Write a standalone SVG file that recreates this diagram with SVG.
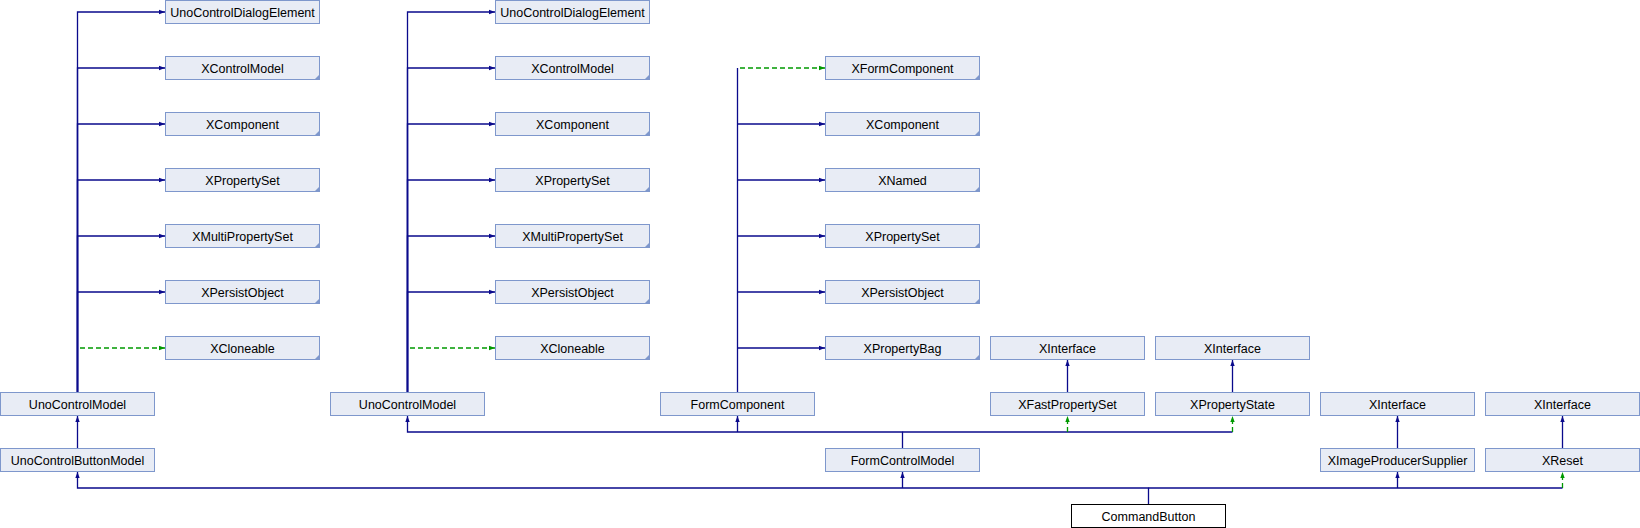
<svg xmlns="http://www.w3.org/2000/svg" width="1640" height="528" viewBox="0 0 1640 528">
<style>
.n{fill:#e8ecf5;stroke:#7e97cc;stroke-width:1}
.m{fill:#ffffff;stroke:#000000;stroke-width:1}
.c{fill:#7e97cc;stroke:none}
.t{font-family:"Liberation Sans",Arial,sans-serif;font-size:12.5px;fill:#000000;text-anchor:middle}
.e{fill:none;stroke:#0a0a8c;stroke-width:1.3}
.d{fill:none;stroke:#009900;stroke-width:1.3;stroke-dasharray:5,3}
</style>
<defs>
<marker id="an" markerWidth="8" markerHeight="8" refX="6" refY="4" orient="auto" markerUnits="userSpaceOnUse"><path d="M0,1.8 L6,4 L0,6.2 z" fill="#0a0a8c"/></marker>
<marker id="ag" markerWidth="8" markerHeight="8" refX="6" refY="4" orient="auto" markerUnits="userSpaceOnUse"><path d="M0,1.8 L6,4 L0,6.2 z" fill="#009900"/></marker>
</defs>
<rect x="0" y="0" width="1640" height="528" fill="#ffffff"/>
<g id="connectors">
<path class="d" d="M80,348 H165" marker-end="url(#ag)"/>
<path class="e" d="M77.5,392 V12 H165" marker-end="url(#an)"/>
<path class="e" d="M77.5,392 V68 H165" marker-end="url(#an)"/>
<path class="e" d="M77.5,392 V124 H165" marker-end="url(#an)"/>
<path class="e" d="M77.5,392 V180 H165" marker-end="url(#an)"/>
<path class="e" d="M77.5,392 V236 H165" marker-end="url(#an)"/>
<path class="e" d="M77.5,392 V292 H165" marker-end="url(#an)"/>
<path class="d" d="M410,348 H495" marker-end="url(#ag)"/>
<path class="e" d="M407.5,392 V12 H495" marker-end="url(#an)"/>
<path class="e" d="M407.5,392 V68 H495" marker-end="url(#an)"/>
<path class="e" d="M407.5,392 V124 H495" marker-end="url(#an)"/>
<path class="e" d="M407.5,392 V180 H495" marker-end="url(#an)"/>
<path class="e" d="M407.5,392 V236 H495" marker-end="url(#an)"/>
<path class="e" d="M407.5,392 V292 H495" marker-end="url(#an)"/>
<path class="d" d="M740,68 H825" marker-end="url(#ag)"/>
<path class="e" d="M737.5,392 V68"/>
<path class="e" d="M737.5,124 H825" marker-end="url(#an)"/>
<path class="e" d="M737.5,180 H825" marker-end="url(#an)"/>
<path class="e" d="M737.5,236 H825" marker-end="url(#an)"/>
<path class="e" d="M737.5,292 H825" marker-end="url(#an)"/>
<path class="e" d="M737.5,348 H825" marker-end="url(#an)"/>
<path class="e" d="M77.5,448 V416" marker-end="url(#an)"/>
<path class="e" d="M902.5,448 V432 H407.5 V416" marker-end="url(#an)"/>
<path class="e" d="M737.5,432 V416" marker-end="url(#an)"/>
<path class="e" d="M902.5,432 H1232.5"/>
<path class="d" d="M1067.5,432 V416" marker-end="url(#ag)"/>
<path class="d" d="M1232.5,432 V416" marker-end="url(#ag)"/>
<path class="e" d="M1067.5,392 V360" marker-end="url(#an)"/>
<path class="e" d="M1232.5,392 V360" marker-end="url(#an)"/>
<path class="e" d="M1397.5,448 V416" marker-end="url(#an)"/>
<path class="e" d="M1562.5,448 V416" marker-end="url(#an)"/>
<path class="e" d="M1148.5,504 V488 H77.5 V472" marker-end="url(#an)"/>
<path class="e" d="M902.5,488 V472" marker-end="url(#an)"/>
<path class="e" d="M1148.5,488 H1562.5"/>
<path class="e" d="M1397.5,488 V472" marker-end="url(#an)"/>
<path class="d" d="M1562.5,488 V472" marker-end="url(#ag)"/>
</g>
<g id="a_UnoControlModel"><rect class="n" x="0.5" y="392.5" width="154" height="23"/><text class="t" x="77.5" y="408.5">UnoControlModel</text></g>
<g id="a_UnoControlButtonModel"><rect class="n" x="0.5" y="448.5" width="154" height="23"/><text class="t" x="77.5" y="464.5">UnoControlButtonModel</text></g>
<g id="b_UnoControlDialogElement"><rect class="n" x="165.5" y="0.5" width="154" height="23"/><text class="t" x="242.5" y="16.5">UnoControlDialogElement</text></g>
<g id="b_XControlModel"><rect class="n" x="165.5" y="56.5" width="154" height="23"/><path class="c" d="M320,74 V80 H314 z"/><text class="t" x="242.5" y="72.5">XControlModel</text></g>
<g id="b_XComponent"><rect class="n" x="165.5" y="112.5" width="154" height="23"/><path class="c" d="M320,130 V136 H314 z"/><text class="t" x="242.5" y="128.5">XComponent</text></g>
<g id="b_XPropertySet"><rect class="n" x="165.5" y="168.5" width="154" height="23"/><path class="c" d="M320,186 V192 H314 z"/><text class="t" x="242.5" y="184.5">XPropertySet</text></g>
<g id="b_XMultiPropertySet"><rect class="n" x="165.5" y="224.5" width="154" height="23"/><path class="c" d="M320,242 V248 H314 z"/><text class="t" x="242.5" y="240.5">XMultiPropertySet</text></g>
<g id="b_XPersistObject"><rect class="n" x="165.5" y="280.5" width="154" height="23"/><path class="c" d="M320,298 V304 H314 z"/><text class="t" x="242.5" y="296.5">XPersistObject</text></g>
<g id="b_XCloneable"><rect class="n" x="165.5" y="336.5" width="154" height="23"/><path class="c" d="M320,354 V360 H314 z"/><text class="t" x="242.5" y="352.5">XCloneable</text></g>
<g id="c_UnoControlModel"><rect class="n" x="330.5" y="392.5" width="154" height="23"/><text class="t" x="407.5" y="408.5">UnoControlModel</text></g>
<g id="d_UnoControlDialogElement"><rect class="n" x="495.5" y="0.5" width="154" height="23"/><text class="t" x="572.5" y="16.5">UnoControlDialogElement</text></g>
<g id="d_XControlModel"><rect class="n" x="495.5" y="56.5" width="154" height="23"/><path class="c" d="M650,74 V80 H644 z"/><text class="t" x="572.5" y="72.5">XControlModel</text></g>
<g id="d_XComponent"><rect class="n" x="495.5" y="112.5" width="154" height="23"/><path class="c" d="M650,130 V136 H644 z"/><text class="t" x="572.5" y="128.5">XComponent</text></g>
<g id="d_XPropertySet"><rect class="n" x="495.5" y="168.5" width="154" height="23"/><path class="c" d="M650,186 V192 H644 z"/><text class="t" x="572.5" y="184.5">XPropertySet</text></g>
<g id="d_XMultiPropertySet"><rect class="n" x="495.5" y="224.5" width="154" height="23"/><path class="c" d="M650,242 V248 H644 z"/><text class="t" x="572.5" y="240.5">XMultiPropertySet</text></g>
<g id="d_XPersistObject"><rect class="n" x="495.5" y="280.5" width="154" height="23"/><path class="c" d="M650,298 V304 H644 z"/><text class="t" x="572.5" y="296.5">XPersistObject</text></g>
<g id="d_XCloneable"><rect class="n" x="495.5" y="336.5" width="154" height="23"/><path class="c" d="M650,354 V360 H644 z"/><text class="t" x="572.5" y="352.5">XCloneable</text></g>
<g id="e_FormComponent"><rect class="n" x="660.5" y="392.5" width="154" height="23"/><text class="t" x="737.5" y="408.5">FormComponent</text></g>
<g id="f_XFormComponent"><rect class="n" x="825.5" y="56.5" width="154" height="23"/><path class="c" d="M980,74 V80 H974 z"/><text class="t" x="902.5" y="72.5">XFormComponent</text></g>
<g id="f_XComponent"><rect class="n" x="825.5" y="112.5" width="154" height="23"/><path class="c" d="M980,130 V136 H974 z"/><text class="t" x="902.5" y="128.5">XComponent</text></g>
<g id="f_XNamed"><rect class="n" x="825.5" y="168.5" width="154" height="23"/><path class="c" d="M980,186 V192 H974 z"/><text class="t" x="902.5" y="184.5">XNamed</text></g>
<g id="f_XPropertySet"><rect class="n" x="825.5" y="224.5" width="154" height="23"/><path class="c" d="M980,242 V248 H974 z"/><text class="t" x="902.5" y="240.5">XPropertySet</text></g>
<g id="f_XPersistObject"><rect class="n" x="825.5" y="280.5" width="154" height="23"/><path class="c" d="M980,298 V304 H974 z"/><text class="t" x="902.5" y="296.5">XPersistObject</text></g>
<g id="f_XPropertyBag"><rect class="n" x="825.5" y="336.5" width="154" height="23"/><path class="c" d="M980,354 V360 H974 z"/><text class="t" x="902.5" y="352.5">XPropertyBag</text></g>
<g id="f_FormControlModel"><rect class="n" x="825.5" y="448.5" width="154" height="23"/><text class="t" x="902.5" y="464.5">FormControlModel</text></g>
<g id="g_XInterface"><rect class="n" x="990.5" y="336.5" width="154" height="23"/><text class="t" x="1067.5" y="352.5">XInterface</text></g>
<g id="g_XFastPropertySet"><rect class="n" x="990.5" y="392.5" width="154" height="23"/><text class="t" x="1067.5" y="408.5">XFastPropertySet</text></g>
<g id="h_XInterface"><rect class="n" x="1155.5" y="336.5" width="154" height="23"/><text class="t" x="1232.5" y="352.5">XInterface</text></g>
<g id="h_XPropertyState"><rect class="n" x="1155.5" y="392.5" width="154" height="23"/><text class="t" x="1232.5" y="408.5">XPropertyState</text></g>
<g id="i_XInterface"><rect class="n" x="1320.5" y="392.5" width="154" height="23"/><text class="t" x="1397.5" y="408.5">XInterface</text></g>
<g id="i_XImageProducerSupplier"><rect class="n" x="1320.5" y="448.5" width="154" height="23"/><text class="t" x="1397.5" y="464.5">XImageProducerSupplier</text></g>
<g id="j_XInterface"><rect class="n" x="1485.5" y="392.5" width="154" height="23"/><text class="t" x="1562.5" y="408.5">XInterface</text></g>
<g id="j_XReset"><rect class="n" x="1485.5" y="448.5" width="154" height="23"/><text class="t" x="1562.5" y="464.5">XReset</text></g>
<g id="CommandButton"><rect class="m" x="1071.5" y="504.5" width="154" height="23"/><text class="t" x="1148.5" y="520.5">CommandButton</text></g>
</svg>
